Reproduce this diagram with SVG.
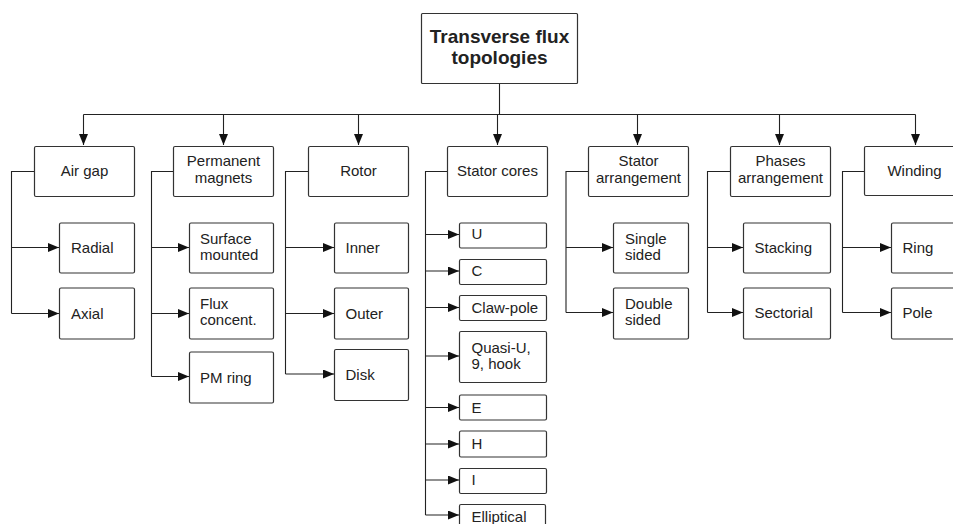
<svg xmlns="http://www.w3.org/2000/svg" width="953" height="524" viewBox="0 0 953 524">
<defs>
<marker id="ah" markerUnits="userSpaceOnUse" markerWidth="11" markerHeight="9" refX="11" refY="4.5" orient="auto">
<path d="M0,0 L11,4.5 L0,9 z" fill="#111"/>
</marker>
<style>
rect{fill:#fff;stroke:#333;stroke-width:1.2}
text{font-family:"Liberation Sans",Arial,sans-serif;font-size:15px;fill:#222}
.c{text-anchor:middle}
.root{font-size:19px;font-weight:bold}
.ln{fill:none;stroke:#222;stroke-width:1.1}
.ar{fill:none;stroke:#222;stroke-width:1.1;marker-end:url(#ah)}
</style>
</defs>
<rect x="0" y="0" width="953" height="524" style="fill:#fff;stroke:none"/>
<g id="connectors">
<path class="ln" d="M499.5,83 V114.5 M83.5,114.5 H915.5"/>
<path class="ar" d="M83.5,114.5 V145"/>
<path class="ar" d="M223.5,114.5 V145"/>
<path class="ar" d="M358.5,114.5 V145"/>
<path class="ar" d="M497.5,114.5 V145"/>
<path class="ar" d="M637.5,114.5 V145"/>
<path class="ar" d="M779.5,114.5 V145"/>
<path class="ar" d="M915.5,114.5 V145"/>
<path class="ln" d="M34,171.5 H11.5 V313.5"/>
<path class="ar" d="M11.5,247.5 H59"/>
<path class="ar" d="M11.5,313.5 H59"/>
<path class="ln" d="M173,171.5 H151.5 V376.5"/>
<path class="ar" d="M151.5,247.5 H189"/>
<path class="ar" d="M151.5,313.5 H189"/>
<path class="ar" d="M151.5,376.5 H189"/>
<path class="ln" d="M308,171.5 H285.5 V374"/>
<path class="ar" d="M285.5,247.5 H334"/>
<path class="ar" d="M285.5,313.5 H334"/>
<path class="ar" d="M285.5,374 H334"/>
<path class="ln" d="M447,171.5 H425.5 V515"/>
<path class="ar" d="M425.5,234.5 H459"/>
<path class="ar" d="M425.5,271 H459"/>
<path class="ar" d="M425.5,307.5 H459"/>
<path class="ar" d="M425.5,356 H459"/>
<path class="ar" d="M425.5,407.5 H459"/>
<path class="ar" d="M425.5,444 H459"/>
<path class="ar" d="M425.5,480 H459"/>
<path class="ar" d="M425.5,515 H459"/>
<path class="ln" d="M588,171.5 H566 V312.5"/>
<path class="ar" d="M566,247.5 H613"/>
<path class="ar" d="M566,312.5 H613"/>
<path class="ln" d="M730,171.5 H707.5 V312.5"/>
<path class="ar" d="M707.5,247.5 H743"/>
<path class="ar" d="M707.5,312.5 H743"/>
<path class="ln" d="M864,171.5 H842.5 V312.5"/>
<path class="ar" d="M842.5,247.5 H891"/>
<path class="ar" d="M842.5,312.5 H891"/>
</g>
<g id="root">
<rect x="421.5" y="13.5" width="156" height="70" rx="1"/>
<text class="c root" x="499.5" y="43">Transverse flux</text>
<text class="c root" x="499.5" y="64">topologies</text>
</g>
<g id="airgap">
<rect x="34.5" y="146.5" width="100" height="50" rx="1.5"/>
<text class="c" x="84.5" y="176">Air gap</text>
</g>
<g id="radial"><rect x="59.5" y="223" width="75" height="50" rx="1.5"/><text x="71" y="253">Radial</text></g>
<g id="axial"><rect x="59.5" y="288" width="75" height="51" rx="1.5"/><text x="71" y="318.5">Axial</text></g>
<g id="pm">
<rect x="173.5" y="146.5" width="100" height="50" rx="1.5"/>
<text class="c" x="223.5" y="166">Permanent</text>
<text class="c" x="223.5" y="183">magnets</text>
</g>
<g id="surface"><rect x="189.5" y="223" width="84" height="50" rx="1.5"/><text x="200" y="244">Surface</text><text x="200" y="260">mounted</text></g>
<g id="fluxconc"><rect x="189.5" y="288" width="84" height="51" rx="1.5"/><text x="200" y="309">Flux</text><text x="200" y="325">concent.</text></g>
<g id="pmring"><rect x="189.5" y="352" width="84" height="51" rx="1.5"/><text x="200" y="382.5">PM ring</text></g>
<g id="rotor">
<rect x="308.5" y="146.5" width="100" height="50" rx="1.5"/>
<text class="c" x="358.5" y="176">Rotor</text>
</g>
<g id="inner"><rect x="334.5" y="223" width="74" height="50" rx="1.5"/><text x="345.5" y="253">Inner</text></g>
<g id="outer"><rect x="334.5" y="288" width="74" height="51" rx="1.5"/><text x="345.5" y="318.5">Outer</text></g>
<g id="disk"><rect x="334.5" y="349.5" width="74" height="51" rx="1.5"/><text x="345.5" y="379.5">Disk</text></g>
<g id="statorcores">
<rect x="447.5" y="146.5" width="100" height="50" rx="1.5"/>
<text class="c" x="497.5" y="176">Stator cores</text>
</g>
<g id="core-u"><rect x="459.5" y="223" width="87" height="25" rx="1.5"/><text x="471.5" y="239">U</text></g>
<g id="core-c"><rect x="459.5" y="259.5" width="87" height="25" rx="1.5"/><text x="471.5" y="276">C</text></g>
<g id="core-claw"><rect x="459.5" y="295.5" width="87" height="25" rx="1.5"/><text x="471.5" y="312.5">Claw-pole</text></g>
<g id="core-quasi"><rect x="459.5" y="331.5" width="87" height="51" rx="1.5"/><text x="471.5" y="352.5">Quasi-U,</text><text x="471.5" y="369">9, hook</text></g>
<g id="core-e"><rect x="459.5" y="395" width="87" height="25" rx="1.5"/><text x="471.5" y="412.5">E</text></g>
<g id="core-h"><rect x="459.5" y="431" width="87" height="26" rx="1.5"/><text x="471.5" y="448.5">H</text></g>
<g id="core-i"><rect x="459.5" y="468.5" width="87" height="25" rx="1.5"/><text x="471.5" y="484.5">I</text></g>
<g id="core-ell"><rect x="459.5" y="504.5" width="86" height="30" rx="1.5"/><text x="471.5" y="521.5">Elliptical</text></g>
<g id="statorarr">
<rect x="588.5" y="146.5" width="100" height="50" rx="1.5"/>
<text class="c" x="638.5" y="166">Stator</text>
<text class="c" x="638.5" y="183">arrangement</text>
</g>
<g id="single"><rect x="613.5" y="223" width="75" height="50" rx="1.5"/><text x="625" y="243.5">Single</text><text x="625" y="259.5">sided</text></g>
<g id="double"><rect x="613.5" y="288" width="75" height="51" rx="1.5"/><text x="625" y="309">Double</text><text x="625" y="325">sided</text></g>
<g id="phases">
<rect x="730.5" y="146.5" width="100" height="50" rx="1.5"/>
<text class="c" x="780.5" y="166">Phases</text>
<text class="c" x="780.5" y="183">arrangement</text>
</g>
<g id="stacking"><rect x="743.5" y="223" width="87" height="50" rx="1.5"/><text x="754.5" y="252.7">Stacking</text></g>
<g id="sectorial"><rect x="743.5" y="288" width="87" height="51" rx="1.5"/><text x="754.5" y="318.3">Sectorial</text></g>
<g id="winding">
<rect x="864.5" y="146.5" width="100" height="49" rx="1.5"/>
<text class="c" x="914.5" y="176">Winding</text>
</g>
<g id="ring"><rect x="891.5" y="223" width="75" height="50" rx="1.5"/><text x="902.5" y="252.7">Ring</text></g>
<g id="pole"><rect x="891.5" y="288" width="75" height="51" rx="1.5"/><text x="902.5" y="318.3">Pole</text></g>
</svg>
